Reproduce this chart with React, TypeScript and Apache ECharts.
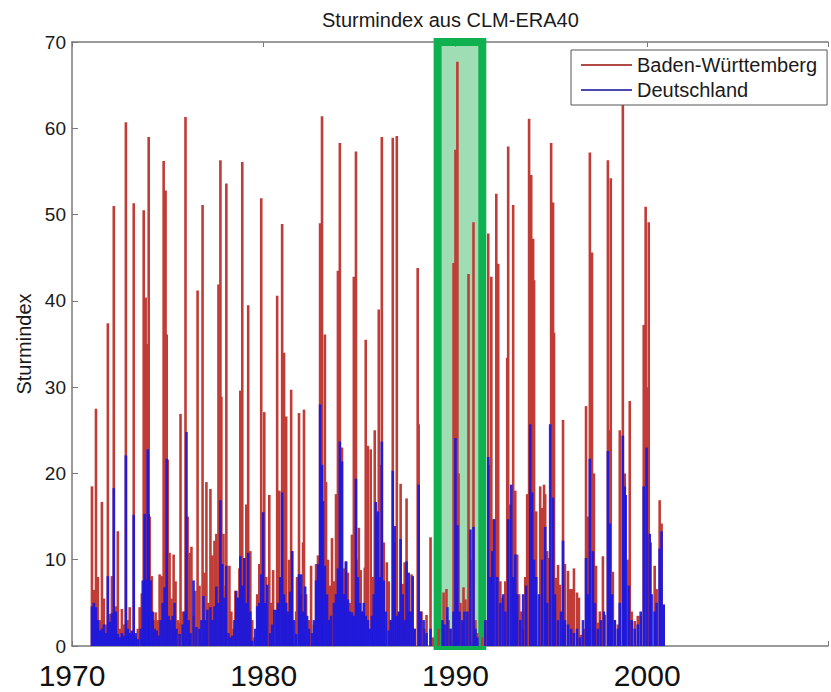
import React, { useEffect, useRef } from 'react';
import * as echarts from 'echarts';

const chartTitle = 'Sturmindex aus CLM-ERA40';
const yAxisName = 'Sturmindex';
const seriesNames = ['Baden-Württemberg', 'Deutschland'];
const yearTicks = [1970, 1980, 1990, 2000];
const highlightYears = [1989.07, 1991.4];

// [year, Sturmindex]
const badenWuerttemberg: [number, number][] = [
  [1971.04, 18.5], [1971.14, 6.5], [1971.25, 27.5], [1971.35, 8.0], [1971.45, 3.0], [1971.56, 16.7],
  [1971.66, 5.5], [1971.77, 2.5], [1971.87, 37.4], [1971.97, 3.7], [1972.08, 8.1], [1972.18, 51.0],
  [1972.29, 4.6], [1972.39, 13.3], [1972.49, 2.0], [1972.6, 4.3], [1972.7, 2.5], [1972.81, 60.7],
  [1972.91, 3.0], [1973.01, 4.5], [1973.12, 1.5], [1973.22, 51.3], [1973.32, 1.0], [1973.43, 2.0],
  [1973.53, 4.5], [1973.64, 6.1], [1973.74, 50.5], [1973.84, 40.4], [1973.9, 35.0], [1973.95, 28.0],
  [1974.0, 59.0], [1974.05, 15.0], [1974.16, 8.1], [1974.26, 3.0], [1974.36, 3.9], [1974.47, 3.0],
  [1974.57, 8.3], [1974.68, 8.1], [1974.78, 56.2], [1974.88, 52.8], [1974.94, 36.1], [1974.99, 21.6],
  [1975.09, 10.8], [1975.19, 5.5], [1975.3, 10.6], [1975.4, 7.5], [1975.51, 3.0], [1975.61, 2.7],
  [1975.66, 26.9], [1975.77, 4.0], [1975.92, 61.3], [1976.03, 15.0], [1976.13, 10.8], [1976.23, 11.5],
  [1976.34, 3.5], [1976.44, 6.4], [1976.55, 41.2], [1976.65, 7.0], [1976.81, 51.1], [1976.91, 8.5],
  [1977.01, 19.0], [1977.12, 5.0], [1977.22, 18.2], [1977.32, 10.5], [1977.43, 12.2], [1977.53, 13.0],
  [1977.64, 41.9], [1977.74, 56.3], [1977.79, 28.9], [1977.9, 13.0], [1978.0, 7.0], [1978.05, 53.6],
  [1978.21, 9.3], [1978.31, 4.0], [1978.42, 2.0], [1978.52, 6.4], [1978.62, 5.6], [1978.73, 9.0],
  [1978.78, 29.6], [1978.88, 56.1], [1978.99, 10.2], [1979.09, 16.4], [1979.19, 39.5], [1979.3, 11.0],
  [1979.4, 3.0], [1979.51, 1.0], [1979.66, 6.0], [1979.77, 9.5], [1979.87, 51.9], [1979.97, 15.5],
  [1980.03, 27.1], [1980.13, 8.0], [1980.29, 17.5], [1980.39, 5.0], [1980.49, 8.8], [1980.7, 40.6],
  [1980.81, 18.0], [1980.96, 48.9], [1981.06, 34.0], [1981.12, 14.7], [1981.17, 26.6], [1981.32, 10.0],
  [1981.43, 29.7], [1981.48, 11.0], [1981.69, 4.0], [1981.74, 8.0], [1981.84, 27.0], [1981.95, 6.0],
  [1982.05, 12.0], [1982.1, 27.4], [1982.21, 6.0], [1982.36, 3.0], [1982.47, 9.3], [1982.62, 2.5],
  [1982.73, 9.5], [1982.83, 10.5], [1982.94, 49.0], [1983.04, 61.4], [1983.19, 36.1], [1983.25, 19.0],
  [1983.35, 10.0], [1983.45, 7.0], [1983.56, 12.5], [1983.66, 7.5], [1983.77, 17.6], [1983.87, 43.5],
  [1983.97, 58.3], [1984.08, 23.0], [1984.18, 9.0], [1984.29, 9.8], [1984.39, 8.5], [1984.49, 5.0],
  [1984.6, 12.9], [1984.7, 42.8], [1984.81, 57.3], [1984.91, 10.0], [1984.96, 13.7], [1985.06, 8.8],
  [1985.17, 4.0], [1985.27, 9.1], [1985.32, 35.5], [1985.43, 23.2], [1985.58, 22.8], [1985.69, 8.0],
  [1985.79, 25.0], [1985.9, 15.0], [1986.0, 39.0], [1986.05, 21.0], [1986.16, 59.0], [1986.26, 12.0],
  [1986.42, 9.7], [1986.52, 7.5], [1986.62, 3.0], [1986.73, 58.9], [1986.83, 12.0], [1986.94, 59.1],
  [1987.04, 3.8], [1987.14, 18.8], [1987.25, 7.2], [1987.35, 9.7], [1987.45, 17.1], [1987.56, 4.0],
  [1987.71, 8.3], [1987.87, 2.0], [1988.03, 43.8], [1988.08, 25.7], [1988.23, 4.0], [1988.39, 2.0],
  [1988.49, 3.6], [1988.7, 12.6], [1988.81, 1.0], [1989.12, 2.0], [1989.38, 6.2], [1989.53, 6.6],
  [1989.64, 3.0], [1989.74, 2.0], [1989.9, 44.4], [1990.0, 57.5], [1990.1, 67.7], [1990.16, 20.0],
  [1990.26, 5.0], [1990.42, 6.8], [1990.52, 5.4], [1990.68, 43.1], [1990.78, 10.0], [1990.94, 49.1],
  [1991.04, 3.0], [1991.14, 1.5], [1991.4, 1.0], [1991.56, 3.0], [1991.71, 47.8], [1991.82, 21.0],
  [1991.87, 42.8], [1991.97, 14.7], [1992.13, 52.4], [1992.23, 44.3], [1992.34, 7.5], [1992.44, 5.6],
  [1992.6, 7.5], [1992.7, 33.4], [1992.75, 57.9], [1992.86, 16.4], [1993.01, 51.1], [1993.12, 18.0],
  [1993.22, 10.6], [1993.32, 6.0], [1993.43, 4.0], [1993.53, 2.0], [1993.64, 8.0], [1993.74, 17.6],
  [1993.79, 10.0], [1993.84, 61.1], [1993.95, 54.6], [1994.05, 47.2], [1994.1, 42.4], [1994.21, 15.6],
  [1994.42, 18.5], [1994.52, 16.0], [1994.62, 18.7], [1994.68, 17.6], [1994.78, 11.0], [1994.88, 10.2],
  [1994.99, 58.3], [1995.09, 51.4], [1995.14, 36.3], [1995.25, 7.9], [1995.35, 9.4], [1995.45, 7.1],
  [1995.61, 26.2], [1995.71, 9.5], [1995.87, 8.7], [1995.97, 6.6], [1996.08, 6.6], [1996.18, 9.0],
  [1996.34, 6.2], [1996.44, 5.6], [1996.55, 1.3], [1996.7, 2.0], [1996.81, 27.8], [1996.91, 15.0],
  [1997.01, 57.2], [1997.12, 45.6], [1997.22, 20.0], [1997.33, 9.3], [1997.43, 2.7], [1997.53, 4.0],
  [1997.69, 10.4], [1997.79, 3.6], [1997.95, 56.3], [1998.05, 25.0], [1998.1, 54.2], [1998.21, 8.6],
  [1998.31, 3.0], [1998.47, 2.5], [1998.57, 25.0], [1998.73, 62.8], [1998.83, 20.0], [1998.99, 10.0],
  [1999.09, 28.4], [1999.19, 4.0], [1999.35, 2.9], [1999.51, 3.5], [1999.66, 3.5], [1999.82, 37.2],
  [1999.92, 50.9], [2000.03, 30.0], [2000.08, 49.1], [2000.18, 12.0], [2000.39, 9.3], [2000.49, 6.6],
  [2000.65, 16.9], [2000.75, 14.2], [2000.86, 4.8],
];

const deutschland: [number, number][] = [
  [1971.04, 4.6], [1971.14, 5.0], [1971.25, 4.5], [1971.35, 3.0], [1971.45, 1.8], [1971.56, 2.0],
  [1971.66, 2.5], [1971.77, 1.5], [1971.87, 8.1], [1971.97, 2.8], [1972.08, 3.8], [1972.18, 18.3],
  [1972.29, 4.0], [1972.39, 1.4], [1972.49, 1.0], [1972.6, 1.5], [1972.7, 1.2], [1972.81, 22.1],
  [1972.91, 2.0], [1973.01, 1.5], [1973.12, 1.8], [1973.22, 15.2], [1973.32, 1.5], [1973.43, 0.8],
  [1973.58, 2.0], [1973.69, 7.6], [1973.79, 15.3], [1973.84, 7.7], [1973.95, 22.8], [1974.0, 15.3],
  [1974.1, 7.6], [1974.21, 4.0], [1974.31, 2.0], [1974.42, 1.8], [1974.52, 1.2], [1974.62, 3.0],
  [1974.73, 5.0], [1974.83, 6.8], [1974.94, 21.7], [1975.04, 3.5], [1975.14, 3.0], [1975.25, 3.5],
  [1975.35, 5.0], [1975.45, 2.0], [1975.61, 1.4], [1975.77, 2.5], [1975.87, 4.0], [1975.97, 24.8],
  [1976.08, 3.0], [1976.18, 1.5], [1976.34, 7.6], [1976.49, 2.2], [1976.65, 2.0], [1976.75, 3.0],
  [1976.86, 5.8], [1976.96, 3.0], [1977.06, 4.2], [1977.22, 4.5], [1977.32, 3.0], [1977.43, 4.6],
  [1977.53, 6.9], [1977.64, 5.0], [1977.74, 16.9], [1977.84, 9.5], [1977.95, 5.6], [1978.05, 9.3],
  [1978.16, 1.5], [1978.26, 1.0], [1978.36, 1.2], [1978.47, 3.0], [1978.57, 6.4], [1978.68, 5.6],
  [1978.78, 10.4], [1978.88, 7.0], [1978.99, 10.2], [1979.09, 5.0], [1979.19, 10.8], [1979.3, 4.0],
  [1979.4, 0.6], [1979.56, 2.0], [1979.66, 4.6], [1979.77, 5.0], [1979.87, 8.3], [1979.97, 15.5],
  [1980.08, 5.0], [1980.18, 7.1], [1980.34, 1.5], [1980.44, 2.5], [1980.55, 4.2], [1980.65, 4.2],
  [1980.75, 5.0], [1980.86, 8.0], [1980.96, 17.8], [1981.06, 6.0], [1981.17, 5.0], [1981.27, 4.0],
  [1981.38, 6.3], [1981.48, 11.0], [1981.58, 3.0], [1981.69, 1.4], [1981.84, 8.3], [1981.95, 8.3],
  [1982.05, 4.0], [1982.16, 6.9], [1982.26, 3.5], [1982.36, 2.0], [1982.52, 1.5], [1982.62, 3.0],
  [1982.73, 7.6], [1982.83, 9.5], [1982.94, 28.0], [1983.04, 21.0], [1983.09, 16.8], [1983.19, 9.3],
  [1983.3, 6.0], [1983.4, 3.0], [1983.51, 3.5], [1983.66, 5.0], [1983.77, 6.0], [1983.87, 9.0],
  [1983.97, 23.7], [1984.08, 21.4], [1984.18, 6.0], [1984.29, 9.8], [1984.39, 5.4], [1984.49, 4.0],
  [1984.6, 3.9], [1984.7, 3.5], [1984.81, 19.4], [1984.91, 8.0], [1985.01, 5.0], [1985.12, 4.0],
  [1985.22, 5.0], [1985.32, 3.5], [1985.43, 3.0], [1985.53, 2.0], [1985.64, 3.5], [1985.74, 6.0],
  [1985.84, 16.7], [1985.95, 15.6], [1986.05, 8.0], [1986.16, 23.7], [1986.26, 7.6], [1986.36, 4.0],
  [1986.52, 1.8], [1986.62, 3.0], [1986.73, 20.3], [1986.83, 13.9], [1986.94, 3.5], [1987.04, 4.0],
  [1987.14, 12.4], [1987.25, 6.0], [1987.35, 3.0], [1987.45, 9.8], [1987.56, 8.5], [1987.66, 4.0],
  [1987.77, 8.1], [1987.87, 2.0], [1988.08, 18.7], [1988.18, 4.0], [1988.34, 3.0], [1988.49, 1.5],
  [1988.7, 2.0], [1989.32, 3.0], [1989.43, 2.5], [1989.58, 4.5], [1989.74, 2.0], [1989.9, 4.0],
  [1990.0, 24.1], [1990.1, 14.0], [1990.21, 4.0], [1990.36, 3.0], [1990.47, 4.0], [1990.62, 4.0],
  [1990.78, 13.5], [1990.94, 13.8], [1991.04, 2.0], [1991.14, 1.0], [1991.56, 3.0], [1991.71, 21.9],
  [1991.82, 8.0], [1991.92, 11.0], [1992.03, 14.7], [1992.18, 8.0], [1992.34, 5.0], [1992.49, 6.0],
  [1992.6, 4.0], [1992.75, 14.7], [1992.91, 18.7], [1993.01, 8.0], [1993.12, 10.6], [1993.22, 6.0],
  [1993.38, 3.0], [1993.53, 6.0], [1993.69, 7.0], [1993.9, 25.7], [1994.0, 17.8], [1994.1, 10.0],
  [1994.21, 8.0], [1994.36, 6.0], [1994.52, 10.0], [1994.68, 13.8], [1994.78, 5.0], [1994.94, 25.7],
  [1995.09, 17.2], [1995.19, 6.0], [1995.35, 3.0], [1995.51, 4.0], [1995.61, 12.2], [1995.71, 3.0],
  [1995.87, 2.5], [1996.03, 2.0], [1996.18, 1.5], [1996.34, 2.0], [1996.49, 1.0], [1996.65, 3.0],
  [1996.81, 10.2], [1996.91, 6.0], [1997.01, 21.7], [1997.17, 11.0], [1997.27, 5.0], [1997.43, 2.0],
  [1997.58, 3.0], [1997.74, 4.0], [1997.95, 22.6], [1998.05, 14.2], [1998.16, 6.0], [1998.31, 3.0],
  [1998.47, 2.0], [1998.57, 5.0], [1998.73, 24.4], [1998.83, 18.5], [1998.88, 17.5], [1999.04, 7.0],
  [1999.19, 3.0], [1999.35, 2.0], [1999.51, 2.5], [1999.66, 4.0], [1999.82, 18.5], [1999.97, 23.0],
  [2000.13, 13.0], [2000.23, 6.0], [2000.39, 4.0], [2000.49, 5.0], [2000.65, 11.3], [2000.75, 13.3],
  [2000.86, 4.8],
];

const FONT = "'Liberation Sans', Arial, sans-serif";
const RED = '#c03c37';
const BLUE = '#1818e2';

export default function App() {
  const ref = useRef<HTMLDivElement>(null);

  useEffect(() => {
    document.body.style.margin = '0';
    const chart = echarts.init(ref.current as HTMLDivElement, null, { renderer: 'svg' });
    const xMin = 1970;
    const xMax = 2009.43;
    chart.setOption({
      animation: false,
      backgroundColor: '#ffffff',
      title: {
        text: chartTitle,
        left: 317,
        top: 5,
        textStyle: { fontFamily: FONT, fontSize: 20, fontWeight: 'normal', color: '#1a1a1a' },
      },
      legend: {
        orient: 'vertical',
        left: 571,
        top: 50,
        padding: [5, 10, 5, 10],
        itemGap: 5,
        itemWidth: 51,
        itemHeight: 2,
        backgroundColor: '#ffffff',
        borderColor: '#555555',
        borderWidth: 1,
        textStyle: { fontFamily: FONT, fontSize: 20, color: '#1a1a1a' },
        data: [
          { name: seriesNames[0], icon: 'rect', itemStyle: { color: '#b04a45' } },
          { name: seriesNames[1], icon: 'rect', itemStyle: { color: '#3a3aa8' } },
        ],
      },
      grid: { left: 72, top: 42, right: 0, bottom: 46 },
      xAxis: [
        {
          type: 'value',
          min: xMin,
          max: xMax,
          interval: 10,
          position: 'bottom',
          splitLine: { show: false },
          axisLine: { show: true, lineStyle: { color: '#7a7a7a', width: 1.5 } },
          axisTick: { show: true, inside: true, length: 5, lineStyle: { color: '#7a7a7a' } },
          axisLabel: {
            margin: 14,
            fontFamily: FONT,
            fontSize: 30,
            color: '#111111',
            formatter: (v: number) => (yearTicks.indexOf(Math.round(v * 100) / 100) >= 0 ? String(v) : ''),
          },
        },
        {
          type: 'value',
          min: xMin,
          max: xMax,
          interval: 10,
          position: 'top',
          splitLine: { show: false },
          axisLine: { show: true, lineStyle: { color: '#7a7a7a', width: 1.5 } },
          axisTick: { show: true, inside: true, length: 5, lineStyle: { color: '#7a7a7a' } },
          axisLabel: { show: false },
        },
      ],
      yAxis: {
        type: 'value',
        min: 0,
        max: 70,
        interval: 10,
        name: yAxisName,
        nameLocation: 'middle',
        nameGap: 36,
        nameTextStyle: { fontFamily: FONT, fontSize: 20, color: '#1a1a1a' },
        splitLine: { show: false },
        axisLine: { show: true, lineStyle: { color: '#7a7a7a', width: 1.5 } },
        axisTick: { show: true, inside: true, length: 6, lineStyle: { color: '#7a7a7a' } },
        axisLabel: { margin: 6, fontFamily: FONT, fontSize: 19, color: '#1a1a1a' },
      },
      series: [
        {
          name: seriesNames[0],
          type: 'bar',
          xAxisIndex: 0,
          barWidth: 2.6,
          barGap: '-100%',
          itemStyle: { color: RED },
          data: badenWuerttemberg,
        },
        {
          name: seriesNames[1],
          type: 'bar',
          xAxisIndex: 0,
          barWidth: 2.6,
          barGap: '-100%',
          itemStyle: { color: BLUE, opacity: 0.92 },
          data: deutschland,
        },
        {
          name: 'highlight',
          type: 'line',
          xAxisIndex: 0,
          data: [],
          clip: false,
          z: 10,
          silent: true,
          markArea: {
            silent: true,
            itemStyle: {
              color: 'rgba(100, 200, 135, 0.62)',
              borderColor: '#0fb04f',
              borderWidth: 8,
            },
            data: [[
              { xAxis: highlightYears[0], yAxis: 0 },
              { xAxis: highlightYears[1], yAxis: 70 },
            ]],
          },
        },
      ],
    });
    return () => chart.dispose();
  }, []);

  return <div ref={ref} style={{ width: 831, height: 692 }} />;
}
